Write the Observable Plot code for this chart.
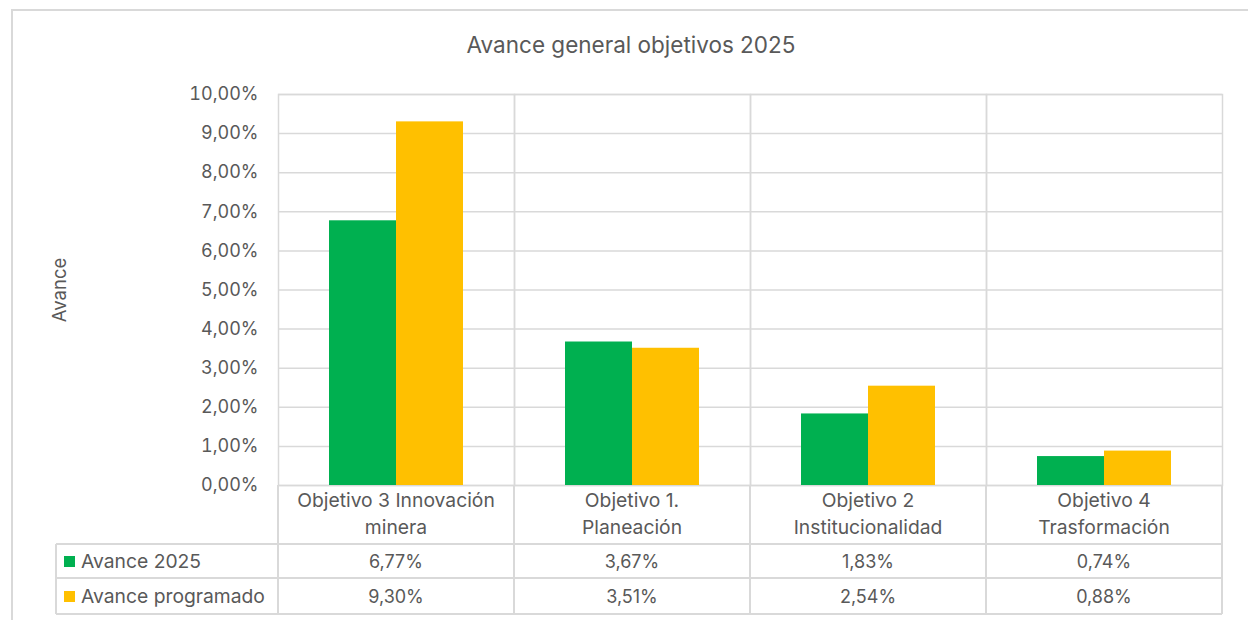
<!DOCTYPE html>
<html>
<head>
<meta charset="utf-8">
<script src="https://cdn.jsdelivr.net/npm/d3@7"></script>
<script src="https://cdn.jsdelivr.net/npm/@observablehq/plot@0.6"></script>
<style>
  html, body { margin:0; padding:0; background:#fff; }
  body { width:1248px; height:620px; position:relative; overflow:hidden; font-family: Inter, "Open Sans", sans-serif; color:#595959; }
  .abs { position:absolute; }
  .line { position:absolute; background:#d9d9d9; }
  .txt { position:absolute; white-space:nowrap; font-size:19.3px; line-height:27px; text-align:center; }
</style>
</head>
<body>
<div id="frame" class="abs" style="left:11px; top:9px; width:1245px; height:620px; border:2px solid #d9d9d9; box-sizing:border-box;"></div>
<div id="chart" class="abs" style="left:0; top:0;"></div>
<div id="overlay" class="abs" style="left:0; top:0; width:1248px; height:620px;"></div>
<script>
// ---- data ----
const title = "Avance general objetivos 2025";
const yLabel = "Avance";
const categories = ["Objetivo 3 Innovación minera", "Objetivo 1. Planeación", "Objetivo 2 Institucionalidad", "Objetivo 4 Trasformación"];
const categoryLines = [["Objetivo 3 Innovación", "minera"], ["Objetivo 1.", "Planeación"], ["Objetivo 2", "Institucionalidad"], ["Objetivo 4", "Trasformación"]];
const series = ["Avance 2025", "Avance programado"];
const avance2025 = [6.77, 3.67, 1.83, 0.74];
const avanceProgramado = [9.30, 3.51, 2.54, 0.88];
const yTicks = [0, 1, 2, 3, 4, 5, 6, 7, 8, 9, 10];
const colors = ["#00B050", "#FFC000"];

const fmt = v => v.toFixed(2).replace(".", ",") + "%";
const values = [avance2025, avanceProgramado];
const data = categories.flatMap((c, i) => series.map((s, j) => ({cat: c, serie: s, value: values[j][i]})));

const chart = Plot.plot({
  width: 1248,
  height: 620,
  marginLeft: 277,
  marginRight: 26,
  marginTop: 94,
  marginBottom: 135,
  style: {fontFamily: "Inter, 'Open Sans', sans-serif", fontSize: "18px", color: "#595959", background: "transparent"},
  fx: {domain: categories, padding: 0, axis: null},
  x: {domain: series, paddingInner: 0, paddingOuter: 0.755, axis: null},
  y: {domain: [0, 10], ticks: yTicks, tickFormat: fmt, tickSize: 0, tickPadding: 20, label: null},
  color: {domain: series, range: colors},
  marks: [
    Plot.gridY(yTicks, {stroke: "#d9d9d9", strokeOpacity: 1, strokeWidth: 1.5}),
    Plot.frame({stroke: "#d9d9d9", strokeWidth: 1.5}),
    Plot.barY(data, {fx: "cat", x: "serie", y: "value", fill: "serie"})
  ]
});
document.getElementById("chart").appendChild(chart);

// ---- overlay: title, y label, data table ----
const ov = document.getElementById("overlay");
function add(cls, style, text) {
  const d = document.createElement("div");
  d.className = cls;
  Object.assign(d.style, style);
  if (text != null) d.textContent = text;
  ov.appendChild(d);
  return d;
}
add("txt", {left: "11px", width: "1240px", top: "31px", fontSize: "22.5px"}, title);
add("txt", {left: "59px", top: "290px", transform: "translate(-50%,-50%) rotate(-90deg)", fontSize: "18.5px"}, yLabel);

const fx = chart.scale("fx");
const bw = fx.bandwidth;
const colX = categories.map(c => fx.apply(c));
const xEnd = colX[colX.length - 1] + bw;
const tableLeft = 56;
const yAxisBase = 485, headerBottom = 544, row1Bottom = 578, row2Bottom = 614;

// vertical lines through label row and table
colX.concat([xEnd]).forEach(x => add("line", {left: (x - 0.75) + "px", top: yAxisBase + "px", width: "1.5px", height: (row2Bottom - yAxisBase) + "px"}));
add("line", {left: (tableLeft - 0.75) + "px", top: headerBottom + "px", width: "1.5px", height: (row2Bottom - headerBottom) + "px"});
[headerBottom, row1Bottom, row2Bottom].forEach(y => add("line", {left: tableLeft + "px", top: (y - 0.75) + "px", width: (xEnd - tableLeft) + "px", height: "1.5px"}));

// category labels
categoryLines.forEach((lines, i) => {
  lines.forEach((t, k) => add("txt", {left: colX[i] + "px", width: bw + "px", top: (487 + k * 27) + "px"}, t));
});
// rows
const rowTops = [headerBottom, row1Bottom];
series.forEach((s, j) => {
  const top = rowTops[j];
  const h = (j === 0 ? row1Bottom - headerBottom : row2Bottom - row1Bottom);
  add("abs", {left: "64px", top: (top + h / 2 - 5.5) + "px", width: "11px", height: "11px", background: colors[j]});
  add("txt", {left: "81px", top: (top + h / 2 - 13.5) + "px", textAlign: "left"}, s);
  categories.forEach((c, i) => add("txt", {left: colX[i] + "px", width: bw + "px", top: (top + h / 2 - 13.5) + "px", fontSize: "18px"}, fmt(values[j][i])));
});
</script>
</body>
</html>
